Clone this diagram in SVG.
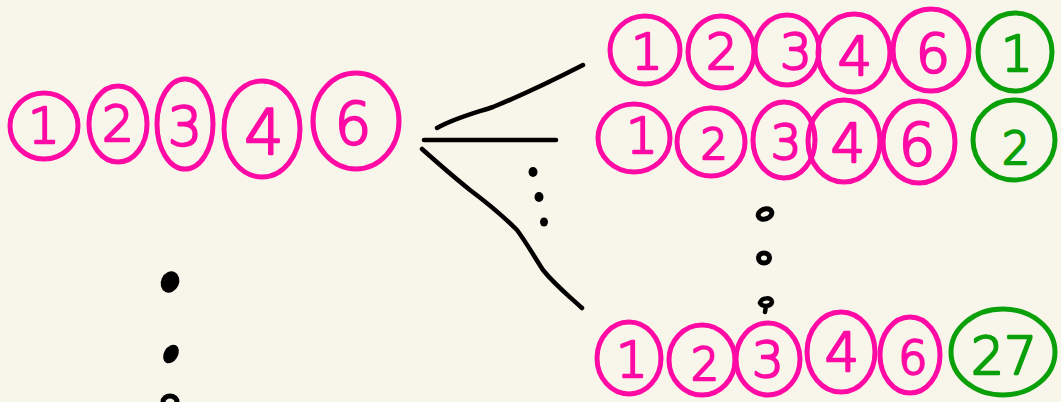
<svg xmlns="http://www.w3.org/2000/svg" width="1061" height="402" viewBox="0 0 1061 402">
  <style>
    .pk { fill: none; stroke: #ff0aa5; stroke-width: 5; stroke-linecap: round; stroke-linejoin: round; }
    .gr { fill: none; stroke: #0aa00a; stroke-width: 5; stroke-linecap: round; stroke-linejoin: round; }
    .tp { fill: #ff0aa5; stroke: #ff0aa5; stroke-width: 2.4; stroke-linejoin: round; }
    .tg { fill: #0aa00a; stroke: #0aa00a; stroke-width: 2.4; stroke-linejoin: round; }
    text { font-family: "DejaVu Sans", "Liberation Sans", sans-serif; font-weight: 300; text-anchor: middle; dominant-baseline: central; font-size: 50px; }
    .ln { fill: none; stroke: #000; stroke-width: 4.5; stroke-linecap: round; stroke-linejoin: round; }
    .dot { fill: #000; }
    .ring { fill: none; stroke: #000; stroke-width: 5; }
  </style>
  <rect width="1061" height="402" fill="#f8f6ea"/>

  <!-- source set -->
  <g id="src-1"><ellipse class="pk" cx="44" cy="126" rx="34" ry="33"/><text class="tp" x="44" y="126">1</text></g>
  <g id="src-2"><ellipse class="pk" cx="118" cy="124" rx="29" ry="38"/><text class="tp" x="118" y="124">2</text></g>
  <g id="src-3"><ellipse class="pk" cx="185" cy="124" rx="28" ry="45"/><text class="tp" x="185" y="126" style="font-size:54px">3</text></g>
  <g id="src-4"><ellipse class="pk" cx="262" cy="129" rx="38" ry="48"/><text class="tp" x="264" y="132" style="font-size:62px">4</text></g>
  <g id="src-6"><ellipse class="pk" cx="356" cy="121" rx="43" ry="48"/><text class="tp" x="353" y="124" style="font-size:58px">6</text></g>

  <!-- row 1 -->
  <g id="r1-1"><ellipse class="pk" cx="645" cy="50" rx="35" ry="34"/><text class="tp" x="647" y="52">1</text></g>
  <g id="r1-2"><ellipse class="pk" cx="721" cy="52" rx="33" ry="36"/><text class="tp" x="722" y="52">2</text></g>
  <g id="r1-3"><ellipse class="pk" cx="787" cy="50" rx="32" ry="35"/><text class="tp" x="796" y="52">3</text></g>
  <g id="r1-4"><ellipse class="pk" cx="854" cy="53" rx="36" ry="39"/><text class="tp" x="855" y="56" style="font-size:54px">4</text></g>
  <g id="r1-6"><ellipse class="pk" cx="931" cy="50" rx="38" ry="41"/><text class="tp" x="933" y="53" style="font-size:54px">6</text></g>
  <g id="r1-g1"><ellipse class="gr" cx="1015" cy="52" rx="37" ry="39"/><text class="tg" x="1017" y="54">1</text></g>

  <!-- row 2 -->
  <g id="r2-1"><ellipse class="pk" cx="634" cy="138" rx="36" ry="34"/><text class="tp" x="642" y="136">1</text></g>
  <g id="r2-2"><ellipse class="pk" cx="711" cy="142" rx="34" ry="34"/><text class="tp" x="714" y="144" style="font-size:42px">2</text></g>
  <g id="r2-3"><ellipse class="pk" cx="784" cy="140" rx="31" ry="38"/><text class="tp" x="786" y="142" style="font-size:48px">3</text></g>
  <g id="r2-4"><ellipse class="pk" cx="844" cy="141" rx="36" ry="41"/><text class="tp" x="848" y="143" style="font-size:54px">4</text></g>
  <g id="r2-6"><ellipse class="pk" cx="919" cy="142" rx="36" ry="41"/><text class="tp" x="917" y="145" style="font-size:58px">6</text></g>
  <g id="r2-g2"><ellipse class="gr" cx="1014" cy="140" rx="41" ry="40"/><text class="tg" x="1016" y="148" style="font-size:44px">2</text></g>

  <!-- last row -->
  <g id="rn-1"><ellipse class="pk" cx="629" cy="358" rx="32" ry="36"/><text class="tp" x="632" y="360">1</text></g>
  <g id="rn-2"><ellipse class="pk" cx="702" cy="360" rx="33" ry="35"/><text class="tp" x="705" y="364" style="font-size:44px">2</text></g>
  <g id="rn-3"><ellipse class="pk" cx="768" cy="359" rx="32" ry="36"/><text class="tp" x="768" y="360">3</text></g>
  <g id="rn-4"><ellipse class="pk" cx="841" cy="352" rx="34" ry="40"/><text class="tp" x="842" y="352" style="font-size:54px">4</text></g>
  <g id="rn-6"><ellipse class="pk" cx="910" cy="355" rx="30" ry="38"/><text class="tp" x="913" y="358" style="font-size:46px">6</text></g>
  <g id="rn-g27"><ellipse class="gr" cx="1003" cy="352" rx="52" ry="43"/><text class="tg" x="1004" y="356" style="font-size:52px">27</text></g>

  <!-- fan of connectors and the ellipsis dots -->
  <g id="connectors">
    <path class="ln" d="M437,128 C455,118 475,113 493,107 C515,98 540,87 583,65"/>
    <path class="ln" d="M424,140 L556,140"/>
    <path class="ln" d="M422,149 C440,165 455,178 470,190 C490,205 505,218 517,230 C528,245 535,258 543,270 C555,285 570,297 582,308"/>
    <ellipse class="dot" cx="533" cy="172" rx="4.5" ry="5"/>
    <ellipse class="dot" cx="539" cy="197" rx="4.5" ry="5"/>
    <ellipse class="dot" cx="544" cy="222" rx="4" ry="4.5"/>
    <ellipse class="dot" cx="170" cy="282" rx="9" ry="11" transform="rotate(25 170 282)"/>
    <ellipse class="dot" cx="171" cy="354" rx="7" ry="10" transform="rotate(30 171 354)"/>
    <ellipse class="ring" cx="170" cy="402" rx="7" ry="6"/>
    <ellipse class="ring" cx="765" cy="214" rx="7" ry="5" transform="rotate(-20 765 214)"/>
    <ellipse class="ring" cx="764" cy="258" rx="5.5" ry="5"/>
    <path class="ln" d="M760,303 C762,297 772,297 772,302 C771,307 762,307 760,303 M766,306 L765,312"/>
  </g>
</svg>
